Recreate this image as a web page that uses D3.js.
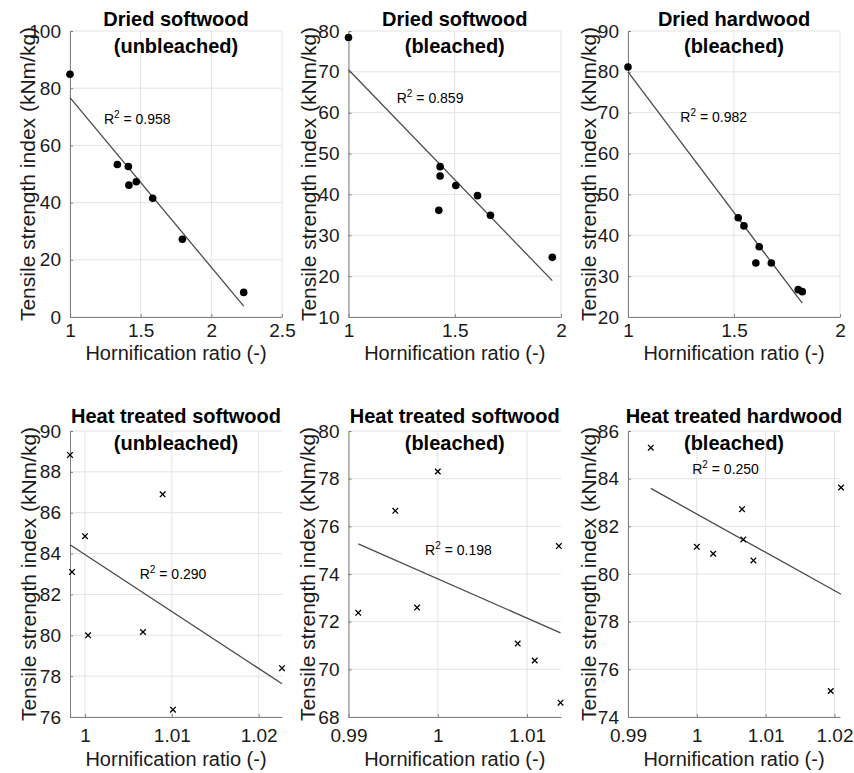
<!DOCTYPE html>
<html>
<head>
<meta charset="utf-8">
<script src="https://cdn.jsdelivr.net/npm/d3@7"></script>
<style>
  body { margin: 0; background: #fff; }
  svg { font-family: "Liberation Sans", Arial, Helvetica, sans-serif; }
</style>
</head>
<body>
<div id="chart"></div>
<script>
// panel titles (two lines each)
var panelTitles = [
    ["Dried softwood", "(unbleached)"],
    ["Dried softwood", "(bleached)"],
    ["Dried hardwood", "(bleached)"],
    ["Heat treated softwood", "(unbleached)"],
    ["Heat treated softwood", "(bleached)"],
    ["Heat treated hardwood", "(bleached)"]
];

var xDomains = [[1, 2.5], [1, 2], [1, 2], [0.99827, 1.02269], [0.99, 1.0138], [0.99, 1.0208]];
var yDomains = [[0, 100], [10, 80], [20, 90], [76, 90], [68, 80], [74, 86]];
var xTickValues = [[1, 1.5, 2, 2.5], [1, 1.5, 2], [1, 1.5, 2], [1, 1.01, 1.02], [0.99, 1, 1.01], [0.99, 1, 1.01, 1.02]];
var yTickValues = [
    [0, 20, 40, 60, 80, 100],
    [10, 20, 30, 40, 50, 60, 70, 80],
    [20, 30, 40, 50, 60, 70, 80, 90],
    [76, 78, 80, 82, 84, 86, 88, 90],
    [68, 70, 72, 74, 76, 78, 80],
    [74, 76, 78, 80, 82, 84, 86]
];

// hornification ratio (x) and tensile strength index (y) per panel
var ratioDriedSwUnbl   = [1.0, 1.335, 1.413, 1.417, 1.469, 1.585, 1.795, 2.229];
var tensileDriedSwUnbl = [84.9, 53.3, 52.6, 46.1, 47.3, 41.5, 27.2, 8.6];
var ratioDriedSwBl     = [1.0, 1.431, 1.431, 1.425, 1.505, 1.607, 1.668, 1.959];
var tensileDriedSwBl   = [78.4, 46.8, 44.5, 36.1, 42.2, 39.7, 34.9, 24.6];
var ratioDriedHwBl     = [1.0, 1.52, 1.547, 1.619, 1.603, 1.676, 1.803, 1.822];
var tensileDriedHwBl   = [81.2, 44.3, 42.3, 37.2, 33.2, 33.2, 26.7, 26.2];
var ratioHeatSwUnbl    = [0.99827, 0.9985, 1.0, 1.00035, 1.00668, 1.00894, 1.01013, 1.02269];
var tensileHeatSwUnbl  = [88.83, 83.1, 84.85, 80.0, 80.16, 86.9, 76.36, 78.39];
var ratioHeatSwBl      = [0.99109, 0.99524, 0.99768, 1.0, 1.00895, 1.01086, 1.01356, 1.01375];
var tensileHeatSwBl    = [72.37, 76.65, 72.59, 78.3, 71.08, 70.37, 75.17, 68.6];
var ratioHeatHwBl      = [0.99331, 1.0, 1.00238, 1.00657, 1.00676, 1.00822, 1.01945, 1.02095];
var tensileHeatHwBl    = [85.3, 81.14, 80.85, 82.72, 81.45, 80.57, 75.09, 83.63];

var ratios   = [ratioDriedSwUnbl, ratioDriedSwBl, ratioDriedHwBl, ratioHeatSwUnbl, ratioHeatSwBl, ratioHeatHwBl];
var tensiles = [tensileDriedSwUnbl, tensileDriedSwBl, tensileDriedHwBl, tensileHeatSwUnbl, tensileHeatSwBl, tensileHeatHwBl];

// linear fit end points
var fitX = [[1, 2.229], [1, 1.959], [1, 1.822], [0.99827, 1.02269], [0.99109, 1.01375], [0.99331, 1.02095]];
var fitY = [[76.7, 3.8], [70.5, 18.9], [80.0, 23.4], [84.43, 77.63], [75.26, 71.53], [83.59, 79.15]];

var r2Values = ["0.958", "0.859", "0.982", "0.290", "0.198", "0.250"];
var r2Anchor = [[1.24, 69.2], [1.227, 63.5], [1.247, 68.9], [1.0063, 83.0], [0.99858, 75.0], [0.99933, 84.4]];

var markerKind = ["dot", "dot", "dot", "cross", "cross", "cross"];

var W = 854, H = 773;
var colLeft = [70, 348.5, 628], colRight = [282, 561, 840];
var rowTop = [31, 431], rowBottom = [317, 717];
var yLabelGap = [43, 40, 40, 42, 41, 40];
var titleDy = [[-5, 22], [-8, 19]];
var xTickPad = [7, 12];
var xLabelDy = [43, 49];

var svg = d3.select("#chart").append("svg")
    .attr("width", W)
    .attr("height", H);

panelTitles.forEach(function(title, i) {
    var r = Math.floor(i / 3), c = i % 3;
    var left = colLeft[c], right = colRight[c], top = rowTop[r], bottom = rowBottom[r];

    var x = d3.scaleLinear().domain(xDomains[i]).range([left, right]);
    var y = d3.scaleLinear().domain(yDomains[i]).range([bottom, top]);

    var g = svg.append("g");

    // grid
    g.selectAll(".vgrid").data(xTickValues[i]).enter().append("line")
        .attr("x1", function(d) { return x(d); })
        .attr("x2", function(d) { return x(d); })
        .attr("y1", top).attr("y2", bottom)
        .attr("stroke", "#e3e3e3").attr("stroke-width", 1);
    g.selectAll(".hgrid").data(yTickValues[i]).enter().append("line")
        .attr("x1", left).attr("x2", right)
        .attr("y1", function(d) { return y(d); })
        .attr("y2", function(d) { return y(d); })
        .attr("stroke", "#e3e3e3").attr("stroke-width", 1);

    // axes
    var xAxis = d3.axisBottom(x).tickValues(xTickValues[i]).tickSizeInner(-3).tickSizeOuter(0)
        .tickPadding(xTickPad[r]).tickFormat(function(d) { return String(+d.toFixed(3)); });
    var yAxis = d3.axisLeft(y).tickValues(yTickValues[i]).tickSizeInner(-3).tickSizeOuter(0)
        .tickPadding(9).tickFormat(function(d) { return String(d); });

    var gx = g.append("g").attr("transform", "translate(0," + bottom + ")").call(xAxis);
    var gy = g.append("g").attr("transform", "translate(" + left + ",0)").call(yAxis);
    [gx, gy].forEach(function(a) {
        a.select("path.domain").attr("stroke", "#808080").attr("stroke-width", 1);
        a.selectAll("g.tick line").attr("stroke", "#808080");
        a.selectAll("g.tick text").style("font-size", "19px").attr("fill", "#1a1a1a");
    });
    gx.selectAll("g.tick text").attr("dy", "0.71em");

    // fit line
    g.append("line")
        .attr("x1", x(fitX[i][0])).attr("y1", y(fitY[i][0]))
        .attr("x2", x(fitX[i][1])).attr("y2", y(fitY[i][1]))
        .attr("stroke", "#4a4a4a").attr("stroke-width", 1.3);

    // markers
    var pts = ratios[i].map(function(v, k) { return { x: v, y: tensiles[i][k] }; });
    if (markerKind[i] === "dot") {
        g.selectAll(".pt").data(pts).enter().append("circle")
            .attr("cx", function(d) { return x(d.x); })
            .attr("cy", function(d) { return y(d.y); })
            .attr("r", 3.8)
            .attr("fill", "#000");
    } else {
        var s = 2.8;
        g.selectAll(".pt").data(pts).enter().append("path")
            .attr("d", function(d) {
                var px = x(d.x), py = y(d.y);
                return "M" + (px - s) + "," + (py - s) + "L" + (px + s) + "," + (py + s) +
                       "M" + (px - s) + "," + (py + s) + "L" + (px + s) + "," + (py - s);
            })
            .attr("stroke", "#000").attr("stroke-width", 1.3).attr("fill", "none");
    }

    // R^2 label
    var rt = g.append("text")
        .attr("x", x(r2Anchor[i][0]))
        .attr("y", y(r2Anchor[i][1]) + 5)
        .attr("fill", "#000")
        .style("font-size", "14px");
    rt.append("tspan").text("R");
    rt.append("tspan").attr("dy", -6).style("font-size", "10px").text("2");
    rt.append("tspan").attr("dy", 6).text(" = " + r2Values[i]);

    // titles
    var cx = (left + right) / 2;
    title.forEach(function(line, k) {
        g.append("text")
            .attr("x", cx)
            .attr("y", top + titleDy[r][k])
            .attr("text-anchor", "middle")
            .attr("font-weight", "bold")
            .style("font-size", "20px")
            .attr("fill", "#000")
            .text(line);
    });

    // axis labels
    g.append("text")
        .attr("x", cx)
        .attr("y", bottom + xLabelDy[r])
        .attr("text-anchor", "middle")
        .style("font-size", "20px")
        .attr("fill", "#1a1a1a")
        .text("Hornification ratio (-)");

    g.append("text")
        .attr("transform", "translate(" + (left - yLabelGap[i]) + "," + ((top + bottom) / 2) + ") rotate(-90)")
        .attr("text-anchor", "middle")
        .attr("dominant-baseline", "central")
        .style("font-size", "21px")
        .attr("fill", "#1a1a1a")
        .text("Tensile strength index (kNm/kg)");
});
</script>
</body>
</html>
